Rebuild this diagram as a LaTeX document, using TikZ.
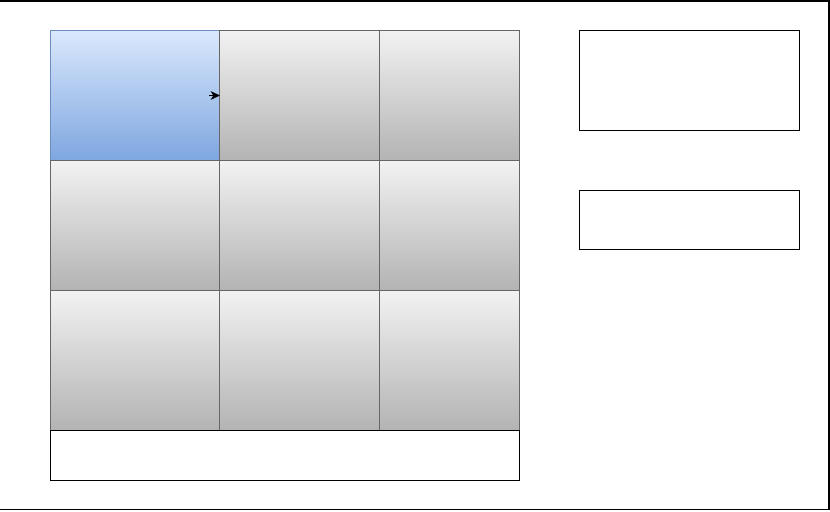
\documentclass[tikz,border=0pt]{standalone}
\usetikzlibrary{arrows.meta}
\definecolor{cellline}{HTML}{666666}
\definecolor{graytop}{HTML}{F2F2F2}
\definecolor{graybot}{HTML}{B3B3B3}
\definecolor{bluetop}{HTML}{DAE8FC}
\definecolor{bluebot}{HTML}{7EA6E0}
\definecolor{blueline}{HTML}{6C8EBF}
\tikzset{
  px/.style={x=0.75pt,y=-0.75pt},
  cell/.style={draw=cellline, line width=0.75pt, inner sep=0pt, anchor=north west,
    top color=graytop, bottom color=graybot},
  bluecell/.style={draw=blueline, line width=0.75pt, inner sep=0pt, anchor=north west,
    top color=bluetop, bottom color=bluebot},
  plainbox/.style={draw=black, line width=1.1pt, fill=white, inner sep=0pt, anchor=north west},
  c1/.style={minimum width=126.75pt},
  c2/.style={minimum width=120pt},
  c3/.style={minimum width=105pt},
  r1/.style={minimum height=97.5pt},
  r3/.style={minimum height=105pt},
}
\begin{document}
\begin{tikzpicture}[px]
\useasboundingbox (0,0) rectangle (830,511);
\fill[white] (0,0) rectangle (830,511);
% outer frame (left edge off the picture)
\draw[line width=1.1pt] (-2,1) -- (829,1) -- (829,509.5) -- (-2,509.5);
% row 1
\node[bluecell,c1,r1] (a11) at (50,30) {};
\node[cell,c2,r1] (a12) at (219,30) {};
\node[cell,c3,r1] (a13) at (379,30) {};
% row 2
\node[cell,c1,r1] (a21) at (50,160) {};
\node[cell,c2,r1] (a22) at (219,160) {};
\node[cell,c3,r1] (a23) at (379,160) {};
% row 3
\node[cell,c1,r3] (a31) at (50,290) {};
\node[cell,c2,r3] (a32) at (219,290) {};
\node[cell,c3,r3] (a33) at (379,290) {};
% bottom box
\node[plainbox,minimum width=351.5pt,minimum height=37.5pt] (bottom) at (50,430) {};
% right boxes
\node[plainbox,minimum width=165pt,minimum height=75pt] (r1box) at (579,30) {};
\node[plainbox,minimum width=165pt,minimum height=44.25pt] (r2box) at (579,190) {};
% small arrow
\coordinate (arrstart) at (209,95.5);
\draw[line width=1pt,-{Stealth[length=7pt,width=6.5pt,inset=2pt]}] (arrstart) -- (a11.east |- arrstart);
\end{tikzpicture}
\end{document}
